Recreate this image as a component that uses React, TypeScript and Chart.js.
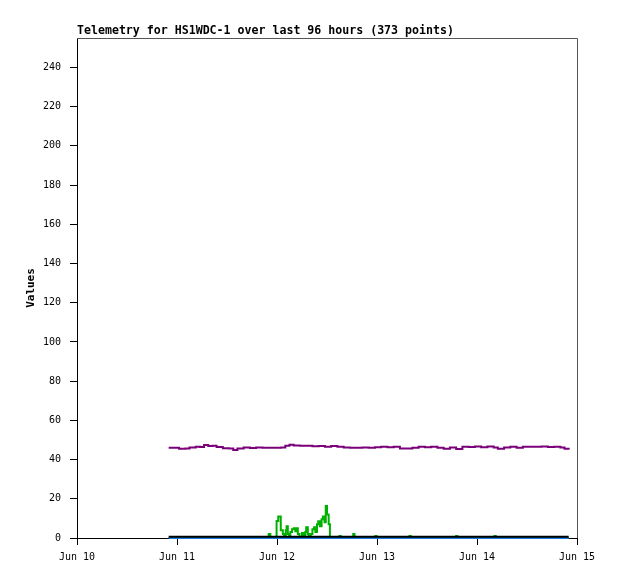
import React, { useEffect, useRef } from "react";
import { Chart, registerables } from "chart.js";

Chart.register(...registerables);

const TITLE = "Telemetry for HS1WDC-1 over last 96 hours (373 points)";
const Y_TITLE = "Values";

// x values are hours since Jun 10 00:00
const xTickLabels = ["Jun 10", "Jun 11", "Jun 12", "Jun 13", "Jun 14", "Jun 15"];

const purpleHours = [
  22, 23.5, 24.5, 26, 27, 28.5, 29.5, 30.5, 31.5, 32.5, 33.5, 35, 36.5, 37.5, 38.5, 40,
  41.5, 43, 44.5, 46, 47.5, 49, 50, 51, 52, 53.5, 55, 56.5, 58, 59.5, 61, 62.5, 64,
  65.5, 67, 68.5, 70, 71.5, 73, 74.5, 76, 77.5, 79, 80.5, 82, 83.5, 85, 86.5, 88,
  89.5, 91, 92.5, 94, 95.5, 97, 98.5, 100, 101, 102.5, 104, 105.5, 107, 108.5, 110,
  111.5, 113, 114.5, 116, 117, 118,
];
const purpleValues = [
  46.0, 46.0, 45.5, 45.6, 46.2, 46.6, 46.4, 47.4, 46.9, 47.0, 46.4, 45.8, 45.6, 44.9, 45.6, 46.2,
  45.9, 46.2, 46.0, 46.0, 46.0, 46.1, 47.0, 47.6, 47.2, 47.0, 47.0, 46.8, 46.9, 46.6, 46.9, 46.6, 46.2,
  46.0, 46.0, 46.1, 46.0, 46.3, 46.6, 46.3, 46.6, 45.7, 45.6, 46.0, 46.6, 46.3, 46.6, 46.0, 45.5,
  46.2, 45.4, 46.6, 46.4, 46.7, 46.3, 46.7, 46.2, 45.5, 46.2, 46.6, 46.0, 46.6, 46.6, 46.6,
  46.7, 46.4, 46.6, 46.2, 45.5, 46.0,
];

const greenHours = [
  22, 46.0, 46.4, 47.9, 48.3, 48.9, 49.4, 49.7, 50.1, 50.3, 50.6, 50.9, 51.2, 51.6, 52.0,
  52.4, 52.7, 53.0, 53.4, 54.0, 54.4, 54.8, 55.0, 55.4, 55.6, 56.1, 56.5, 56.9, 57.2,
  57.6, 57.9, 58.3, 58.7, 59.0, 59.4, 59.7, 60.0, 60.4, 60.7, 63.0, 63.3,
  66.3, 66.6, 71.6, 71.9, 79.8, 80.1, 91.0, 91.3, 100.2, 100.5, 118,
];
const greenValues = [
  0, 2, 0, 8.7, 11, 4, 2, 1, 4, 6, 2, 1, 3, 4.5, 5,
  3.5, 5, 2, 0.5, 2.5, 0.5, 3, 5.5, 2, 1, 2, 4.5, 5.5, 3,
  7, 8.5, 6, 9.5, 11, 8, 16.3, 12, 7, 0, 1, 0,
  2, 0, 1, 0, 1, 0, 1, 0, 1, 0, 0,
];

const blackHours = [22, 118];
const blackValues = [0.6, 0.6];

const blueHours = [22, 118];
const blueValues = [0, 0];

const toPoints = (xs: number[], ys: number[]) => xs.map((x, i) => ({ x, y: ys[i] }));

const MONO = "'DejaVu Sans Mono', 'Liberation Mono', monospace";

const framePlugin = {
  id: "frame",
  afterDraw(chart: any) {
    const { ctx, chartArea } = chart;
    const { left, right, top, bottom } = chartArea;
    ctx.save();
    ctx.strokeStyle = "#555555";
    ctx.lineWidth = 1;
    ctx.beginPath();
    ctx.moveTo(left, top + 0.5);
    ctx.lineTo(right + 0.5, top + 0.5);
    ctx.lineTo(right + 0.5, bottom);
    ctx.stroke();
    ctx.fillStyle = "#000";
    ctx.font = `bold 11.6px ${MONO}`;
    ctx.textAlign = "left";
    ctx.textBaseline = "alphabetic";
    ctx.fillText(TITLE, left, top - 4);
    ctx.restore();
  },
};

export default function App() {
  const ref = useRef<HTMLCanvasElement | null>(null);

  useEffect(() => {
    if (!ref.current) return;
    const tickFont = { family: MONO, size: 10 };
    const chart = new Chart(ref.current, {
      type: "line",
      data: {
        datasets: [
          {
            label: "black",
            data: toPoints(blackHours, blackValues),
            borderColor: "#000000",
            borderWidth: 2,
            order: 0,
            clip: false,
          },
          {
            label: "blue",
            data: toPoints(blueHours, blueValues),
            borderColor: "#1a7fd8",
            borderWidth: 2,
            order: 1,
            clip: false,
          },
          {
            label: "green",
            data: toPoints(greenHours, greenValues),
            borderColor: "#00b000",
            borderWidth: 2,
            order: 2,
          },
          {
            label: "purple",
            data: toPoints(purpleHours, purpleValues),
            borderColor: "#7a007a",
            borderWidth: 2,
            order: 3,
          },
        ],
      } as any,
      options: {
        animation: false,
        responsive: false,
        devicePixelRatio: 1,
        elements: {
          point: { radius: 0 },
          line: { stepped: true, tension: 0, fill: false, borderCapStyle: "butt" },
        },
        layout: { padding: { top: 38, right: 41, left: 0, bottom: 0 } },
        plugins: {
          legend: { display: false },
          tooltip: { enabled: false },
          title: { display: false },
        },
        scales: {
          x: {
            type: "linear",
            min: 0,
            max: 120,
            ticks: {
              stepSize: 24,
              autoSkip: false,
              maxRotation: 0,
              color: "#000",
              font: tickFont,
              padding: 6,
              callback: (v: any) => xTickLabels[Math.round(Number(v) / 24)] ?? "",
            },
            grid: { drawOnChartArea: false, drawTicks: true, tickLength: 7, color: "#000" },
            border: { color: "#000", width: 1 },
            afterFit: (s: any) => {
              s.height = 41;
            },
          },
          y: {
            type: "linear",
            min: 0,
            max: 255,
            ticks: {
              stepSize: 20,
              includeBounds: false,
              color: "#000",
              font: tickFont,
              padding: 9,
            },
            grid: { drawOnChartArea: false, drawTicks: true, tickLength: 7, color: "#000" },
            border: { color: "#000", width: 1 },
            title: {
              display: true,
              text: Y_TITLE,
              color: "#000",
              font: { family: MONO, size: 11, weight: "bold" },
              padding: { top: 25, bottom: 0 },
            },
            afterFit: (s: any) => {
              s.width = 77;
            },
          },
        },
      } as any,
      plugins: [framePlugin],
    });
    return () => chart.destroy();
  }, []);

  return (
    <div style={{ position: "absolute", left: 0, top: 0, width: 618, height: 579, background: "#fff" }}>
      <canvas ref={ref} width={618} height={579} />
    </div>
  );
}
